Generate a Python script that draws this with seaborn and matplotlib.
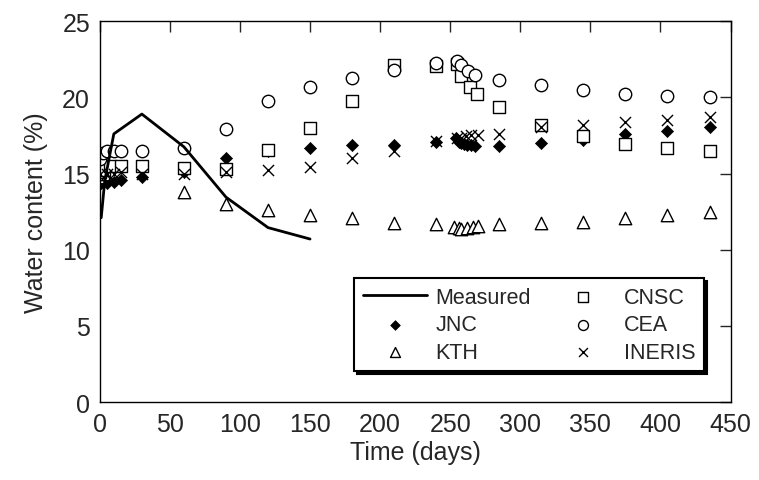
import matplotlib
matplotlib.use("Agg")
import matplotlib.pyplot as plt
import seaborn as sns
import pandas as pd

# ---------------- data ----------------
measured_days = [1, 3.5, 10, 30, 60, 90, 120, 150]
measured_vals = [12.1, 14.5, 17.6, 18.9, 16.75, 13.45, 11.45, 10.7]

jnc_days = [1, 5, 10, 15, 30, 60, 90, 120, 150, 180, 210, 240,
            254, 256, 258, 260, 262, 265, 268, 285, 315, 345, 375, 405, 435]
jnc_vals = [14.35, 14.35, 14.45, 14.55, 14.8, 15.1, 16.0, 16.45, 16.65, 16.85, 16.9, 17.1,
            17.3, 17.1, 17.0, 16.95, 16.9, 16.85, 16.8, 16.8, 17.0, 17.2, 17.6, 17.8, 18.05]

kth_days = [0, 3, 60, 90, 120, 150, 180, 210, 240,
            253, 256, 258, 262, 266, 270, 285, 315, 345, 375, 405, 435]
kth_vals = [14.8, 15.0, 13.8, 13.0, 12.6, 12.3, 12.05, 11.75, 11.7,
            11.5, 11.4, 11.35, 11.4, 11.5, 11.55, 11.7, 11.75, 11.85, 12.05, 12.3, 12.5]

cnsc_days = [0, 3, 7, 15, 30, 60, 90, 120, 150, 180, 210, 240,
             255, 258, 264, 269, 285, 315, 345, 375, 405, 435]
cnsc_vals = [15.1, 15.2, 15.5, 15.5, 15.5, 15.35, 15.3, 16.55, 18.0, 19.75, 22.15, 22.05,
             22.2, 21.4, 20.65, 20.25, 19.35, 18.2, 17.45, 16.95, 16.7, 16.45]

cea_days = [0, 2, 5, 10, 15, 30, 60, 90, 120, 150, 180, 210, 240,
            255, 258, 263, 268, 285, 315, 345, 375, 405, 435]
cea_vals = [15.95, 16.35, 16.45, 16.45, 16.5, 16.5, 16.65, 17.9, 19.75, 20.7, 21.25, 21.8, 22.25,
            22.4, 22.1, 21.7, 21.45, 21.15, 20.8, 20.45, 20.2, 20.1, 20.0]

ineris_days = [0, 5, 10, 15, 30, 60, 90, 120, 150, 180, 210, 240,
               255, 258, 261, 265, 270, 285, 315, 345, 375, 405, 435]
ineris_vals = [14.95, 15.0, 15.0, 15.1, 15.0, 14.95, 15.1, 15.25, 15.4, 16.05, 16.5, 17.15,
               17.3, 17.35, 17.45, 17.5, 17.55, 17.6, 18.05, 18.2, 18.35, 18.5, 18.7]

x_ticks = [0, 50, 100, 150, 200, 250, 300, 350, 400, 450]
y_ticks = [0, 5, 10, 15, 20, 25]

# ---------------- style ----------------
sns.set_style("white")
plt.rcParams["font.family"] = ["Liberation Sans", "DejaVu Sans"]
plt.rcParams["font.size"] = 18

fig = plt.figure(figsize=(7.59, 4.81), dpi=100)
ax = fig.add_axes([0.1315, 0.162, 0.831, 0.792])

def df(d, v):
    return pd.DataFrame({"day": d, "val": v})

sns.lineplot(data=df(measured_days, measured_vals), x="day", y="val", ax=ax,
             color="black", linewidth=2, label="Measured", sort=False)
sns.scatterplot(data=df(jnc_days, jnc_vals), x="day", y="val", ax=ax, marker="D",
                s=38, color="black", edgecolor="black", linewidth=0.5, label="JNC")
sns.scatterplot(data=df(kth_days, kth_vals), x="day", y="val", ax=ax, marker="^",
                s=80, facecolor="white", edgecolor="black", linewidth=1, label="KTH")
sns.scatterplot(data=df(cnsc_days, cnsc_vals), x="day", y="val", ax=ax, marker="s",
                s=70, facecolor="white", edgecolor="black", linewidth=1, label="CNSC")
sns.scatterplot(data=df(cea_days, cea_vals), x="day", y="val", ax=ax, marker="o",
                s=80, facecolor="white", edgecolor="black", linewidth=1, label="CEA")
sns.scatterplot(data=df(ineris_days, ineris_vals), x="day", y="val", ax=ax, marker="x",
                s=64, color="black", linewidth=1, label="INERIS")

ax.set_xlim(0, 450)
ax.set_ylim(0, 25)
ax.set_xticks(x_ticks)
ax.set_yticks(y_ticks)
ax.set_xticklabels([str(t) for t in x_ticks])
ax.set_yticklabels([str(t) for t in y_ticks])
ax.tick_params(direction="in", length=8, width=1, top=True, right=True,
               labeltop=False, labelright=False, labelsize=18, pad=7)
ax.set_xlabel("Time (days)", fontsize=18, labelpad=3)
ax.set_ylabel("Water content (%)", fontsize=18, labelpad=10)
for sp in ax.spines.values():
    sp.set_color("black")
    sp.set_linewidth(1)

handles, labels = ax.get_legend_handles_labels()
order = ["Measured", "JNC", "KTH", "CNSC", "CEA", "INERIS"]
hmap = dict(zip(labels, handles))
leg = ax.legend([hmap[k] for k in order], order, ncol=2, loc="lower right",
                bbox_to_anchor=(0.958, 0.081), borderaxespad=0, fontsize=15.5,
                frameon=True, fancybox=False, edgecolor="black",
                shadow={"color": "black", "alpha": 1},
                handlelength=3.0, handletextpad=0.4, columnspacing=0.9,
                labelspacing=0.3, markerscale=0.8, borderpad=0.4)
leg.get_frame().set_linewidth(1.5)

fig.savefig("out.png", dpi=100)
